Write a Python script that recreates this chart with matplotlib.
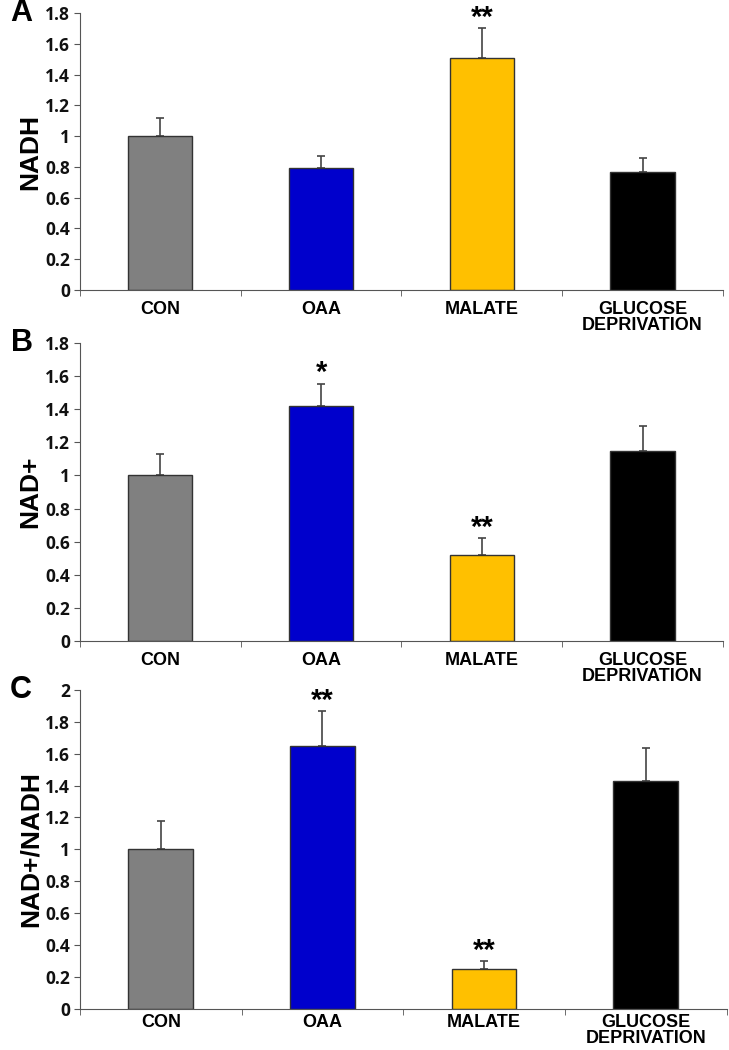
import numpy as np
import matplotlib.pyplot as plt
from matplotlib.ticker import FixedLocator

categories = ["CON", "OAA", "MALATE", "GLUCOSE\nDEPRIVATION"]
colors = ["#808080", "#0000CC", "#FFC000", "#000000"]

nadh = [1.00, 0.79, 1.51, 0.77]
nadh_err = [0.12, 0.08, 0.19, 0.085]
nadh_sig = ["", "", "**", ""]

nadp = [1.00, 1.42, 0.52, 1.15]
nadp_err = [0.13, 0.135, 0.10, 0.15]
nadp_sig = ["", "*", "**", ""]

ratio = [1.00, 1.65, 0.25, 1.43]
ratio_err = [0.18, 0.22, 0.05, 0.205]
ratio_sig = ["", "**", "**", ""]

panels = [
    ("A", "NADH", nadh, nadh_err, nadh_sig, 1.8, [0.1097, 0.7238, 0.882, 0.2638], 8),
    ("B", "NAD+", nadp, nadp_err, nadp_sig, 1.8, [0.1097, 0.3895, 0.882, 0.2838], 8),
    ("C", "NAD+/NADH", ratio, ratio_err, ratio_sig, 2.0, [0.1097, 0.0395, 0.887, 0.3033], 4),
]

fig = plt.figure(figsize=(7.29, 10.5), dpi=100)
x = np.arange(len(categories))

for letter, ylabel, vals, errs, sigs, ymax, pos, xpad in panels:
    ax = fig.add_axes(pos)
    ax.bar(x, vals, width=0.4, color=colors, edgecolor="#333333", linewidth=1.0, zorder=2)
    ax.errorbar(x, vals, yerr=[np.zeros(len(vals)), errs], fmt="none",
                ecolor="#444444", elinewidth=1.2, capsize=3, capthick=1.2, zorder=1)
    for xi, v, e, s in zip(x, vals, errs, sigs):
        if s:
            ax.text(xi, v + e - ymax * 0.012, s, ha="center", va="bottom",
                    fontsize=21, fontweight="bold", family="Liberation Sans")

    ax.set_xlim(-0.5, 3.5)
    ax.set_ylim(0, ymax)
    ticks = np.arange(0, ymax + 0.01, 0.2)
    ax.set_yticks(ticks)
    ax.set_yticklabels([f"{t:g}" for t in ticks],
                       fontsize=12.5, fontweight="bold", family="Open Sans", color="#111111")
    ax.set_xticks(x)
    ax.set_xticklabels(categories, fontsize=13, fontweight="bold",
                       family="Liberation Sans", linespacing=0.95)
    ax.xaxis.set_minor_locator(FixedLocator(np.arange(-0.5, 3.6, 1.0)))
    ax.tick_params(axis="x", which="major", length=0, pad=xpad)
    ax.tick_params(axis="x", which="minor", length=4, direction="out", color="#555555")
    ax.tick_params(axis="y", length=4, direction="out", color="#555555", pad=3)

    ax.spines["top"].set_visible(False)
    ax.spines["right"].set_visible(False)
    ax.spines["left"].set_color("#555555")
    ax.spines["bottom"].set_color("#555555")

    ax.set_ylabel(ylabel, fontsize=19, fontweight="bold", family="Liberation Sans", labelpad=2)
    ax.text(-0.108, 1.0, letter, transform=ax.transAxes, ha="left", va="center",
            fontsize=22, fontweight="bold", family="Liberation Sans")

plt.savefig("out.png", dpi=100)
